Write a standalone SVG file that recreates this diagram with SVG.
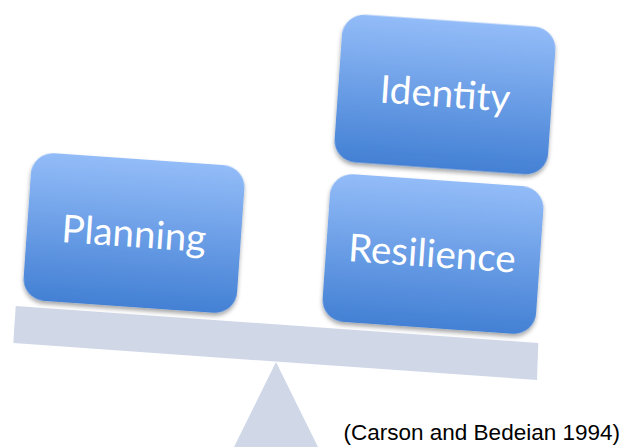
<svg xmlns="http://www.w3.org/2000/svg" width="623" height="447" viewBox="0 0 623 447">
<defs>
<linearGradient id="g" x1="0" y1="0" x2="0" y2="1">
<stop offset="0" stop-color="#93bcf8"/>
<stop offset="1" stop-color="#4380d4"/>
</linearGradient>
<filter id="sh" x="-10%" y="-10%" width="120%" height="125%">
<feDropShadow dx="0" dy="3" stdDeviation="2" flood-color="#000" flood-opacity="0.35"/>
</filter>
</defs>
<style>
.box{fill:url(#g);filter:url(#sh);}
.lbl{font-family:Lato,"Open Sans","Liberation Sans",sans-serif;fill:#fff;text-anchor:middle;font-size:38.5px;}
.scale{fill:#d0d8e8;}
.cite{font-family:"Liberation Sans",Arial,sans-serif;font-size:22.5px;fill:#000;text-anchor:end;}
</style>
<g id="scale">
<polygon class="scale" points="15.7,306 538.3,343 537,380 13.3,343"/>
<polygon class="scale" points="276,362 318,447 234,447"/>
</g>
<g id="planning" transform="rotate(4 134 233)">
<rect class="box" x="27" y="159" width="214" height="148" rx="22"/>
<text class="lbl" x="134" y="247">Planning</text>
</g>
<g id="identity" transform="rotate(4 445 94.5)">
<rect class="box" x="338" y="20.5" width="214" height="148" rx="22"/>
<text class="lbl" x="445" y="107">Identity</text>
</g>
<g id="resilience" transform="rotate(4 433 254)">
<rect class="box" x="326" y="180" width="214" height="148" rx="22"/>
<text class="lbl" x="432" y="267">Resilience</text>
</g>
<g id="connectors"></g>
<text class="cite" x="620" y="440">(Carson and Bedeian 1994)</text>
</svg>
